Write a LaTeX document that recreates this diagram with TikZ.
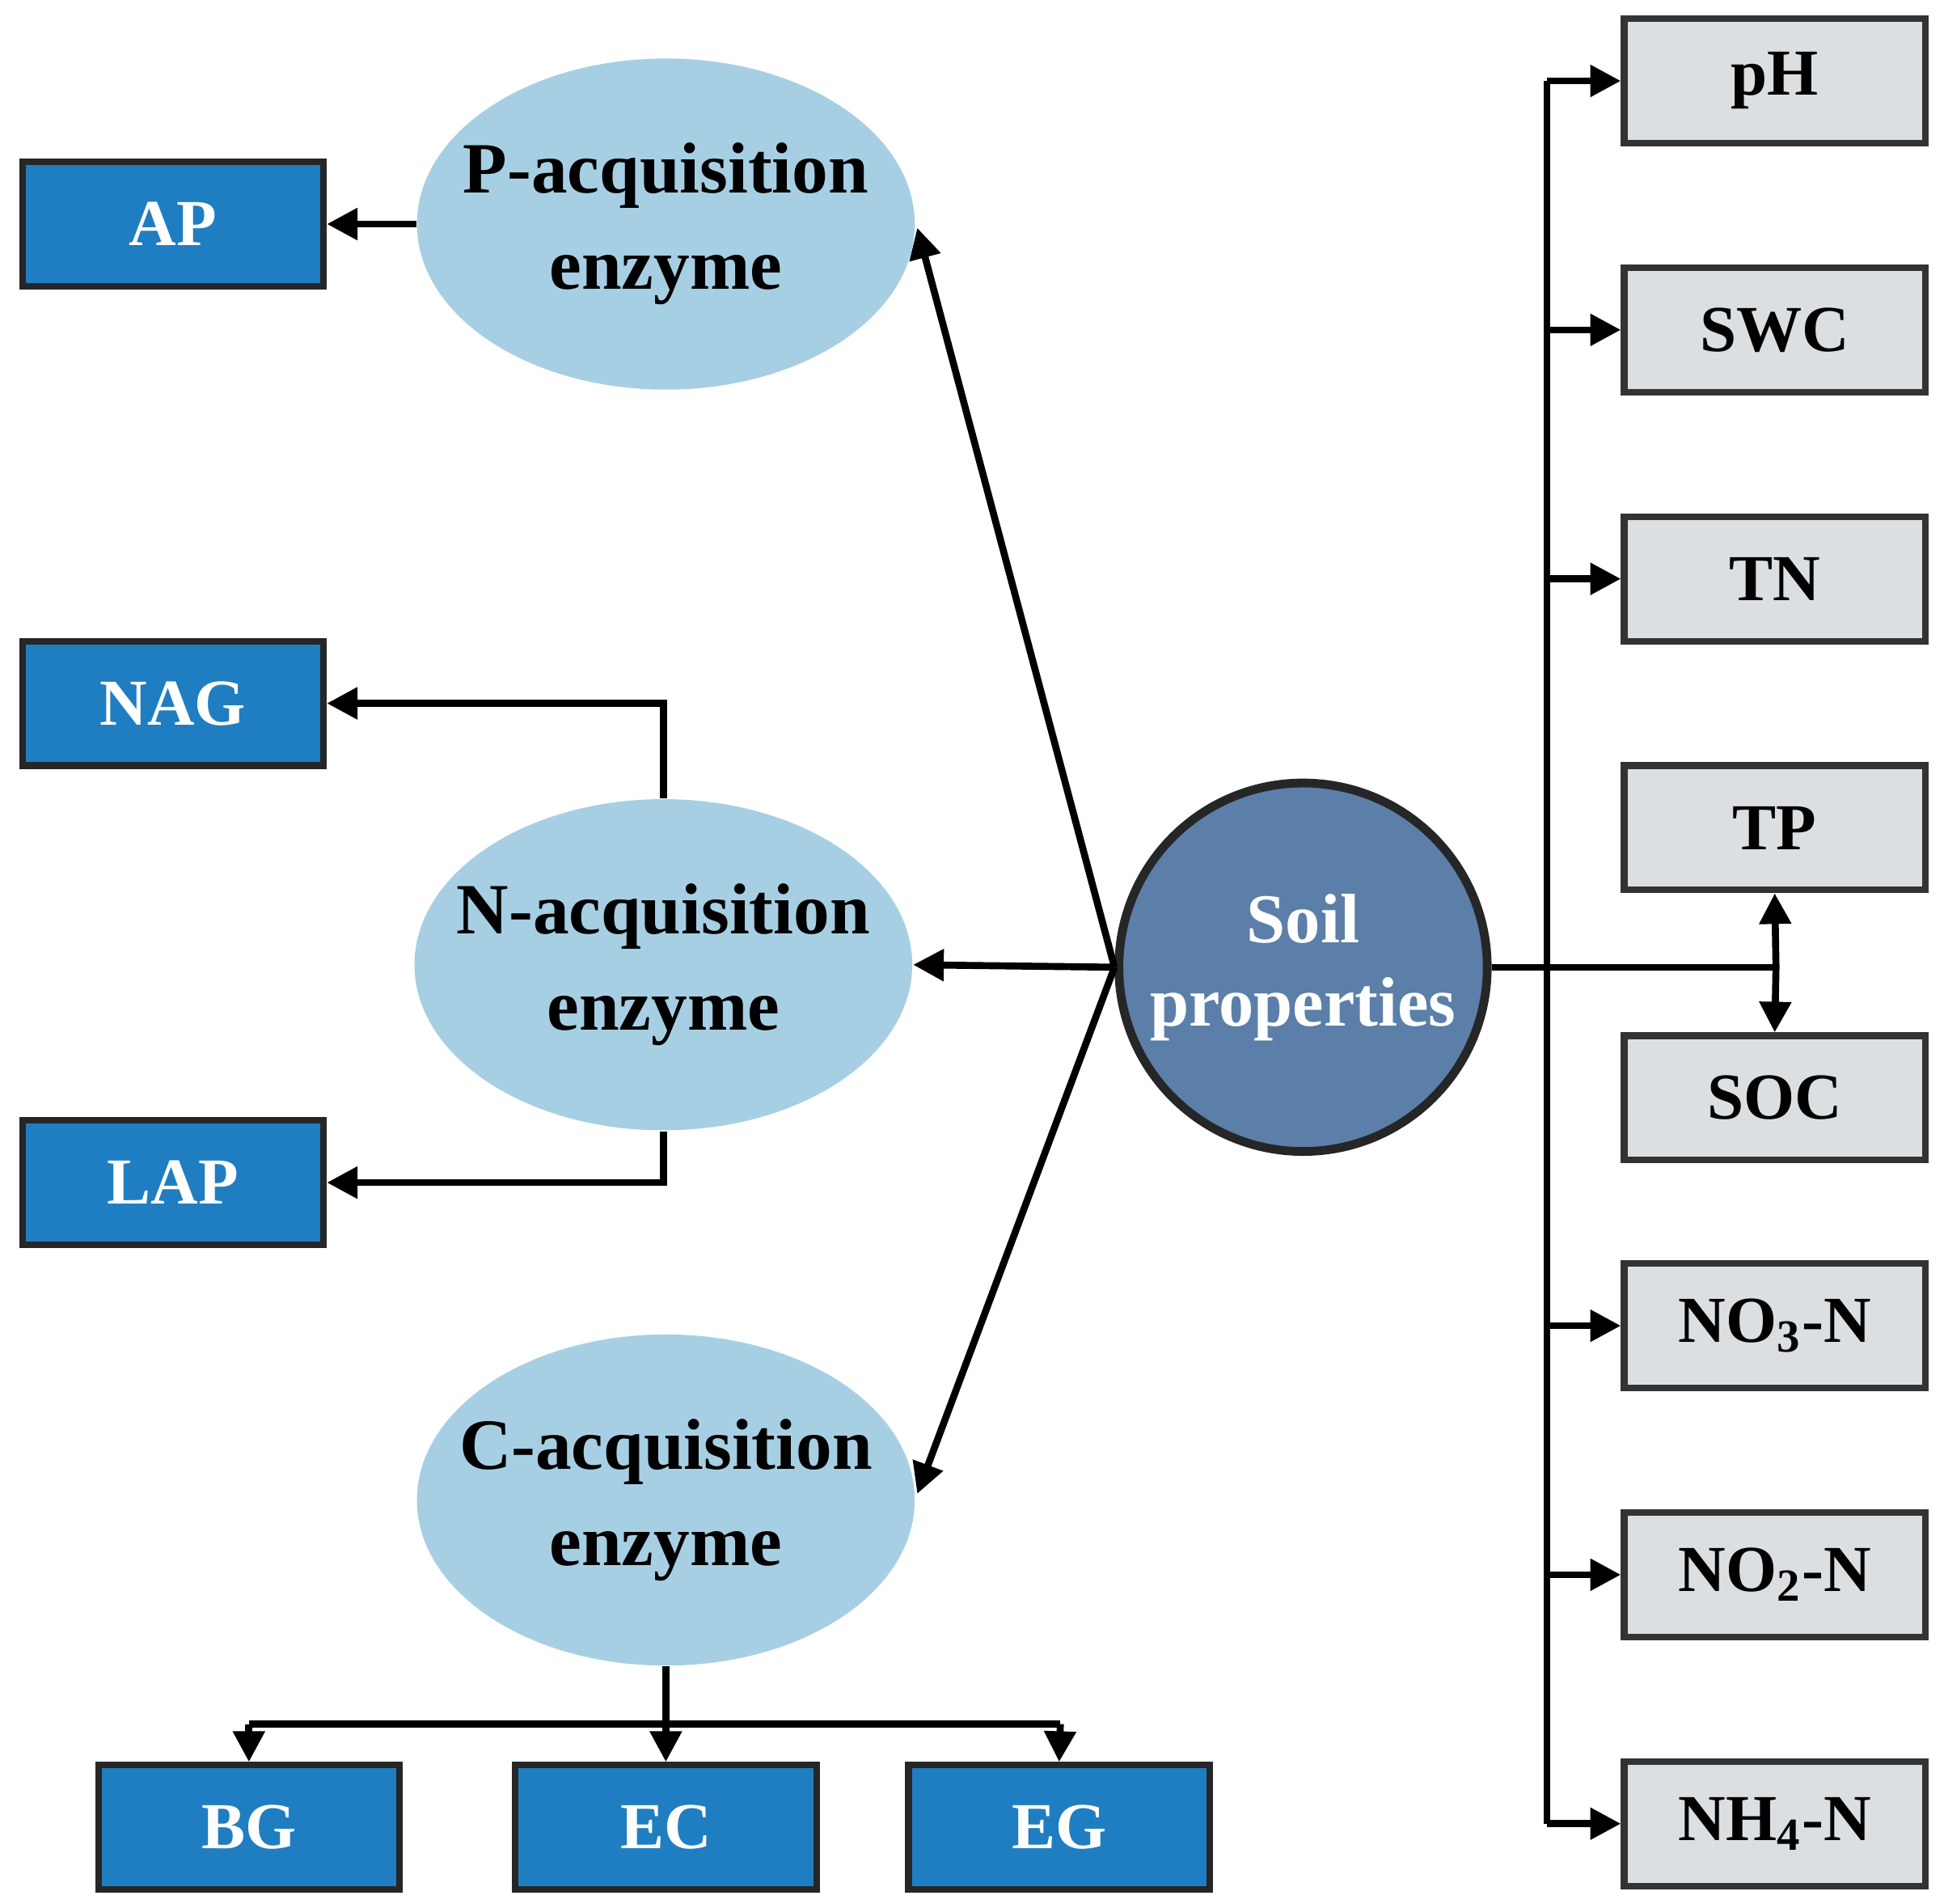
\documentclass[tikz,border=0pt]{standalone}
\usepackage{fontspec}
\setmainfont{Liberation Serif}
\usetikzlibrary{arrows.meta,shapes.geometric}
\definecolor{bluebox}{HTML}{1F7EC1}
\definecolor{ell}{HTML}{A7CFE3}
\definecolor{soil}{HTML}{5B7FA8}
\definecolor{graybox}{HTML}{DCDFE2}
\begin{document}
\begin{tikzpicture}[x=0.1mm,y=-0.1mm,
 bb/.style={draw=black!85,line width=1.5pt,fill=bluebox,text=white,minimum width=24.2mm,minimum height=10mm,inner sep=0pt,font=\fontsize{15}{18}\selectfont\bfseries},
 gb/.style={draw=black!80,line width=1.5pt,fill=graybox,text=black,minimum width=24.2mm,minimum height=10mm,inner sep=0pt,font=\fontsize{15}{18}\selectfont\bfseries},
 el/.style={ellipse,fill=ell,minimum width=40mm,minimum height=26.6mm,inner sep=0pt},
 et/.style={align=center,font=\fontsize{16.5}{22}\selectfont\bfseries},
 ar/.style={line width=1.6pt,-{Triangle[length=7pt,width=7pt]}},
 ln/.style={line width=1.6pt}]
\useasboundingbox (0,0) rectangle (1562,1529);
\node[bb] (AP) at (139,180) {AP};
\node[bb] (NAG) at (139,565) {NAG};
\node[bb] (LAP) at (139,950) {LAP};
\node[bb] (BG) at (200,1468) {BG};
\node[bb] (EC) at (535,1468) {EC};
\node[bb] (EG) at (851,1468) {EG};
\node[el] (P) at (535,180) {};
\node[el] (N) at (533,775) {};
\node[el] (C) at (535,1205) {};
\node[et] at (P) {P-acquisition\\enzyme};
\node[et] at (N) {N-acquisition\\enzyme};
\node[et] at (C) {C-acquisition\\enzyme};
\node[circle,draw=black!85,line width=2pt,fill=soil,minimum size=29.6mm,inner sep=0pt] (S) at (1047,777) {};
\node[align=center,text=white,font=\fontsize{16}{19}\selectfont\bfseries] at (S) {Soil\\properties};
\node[gb] (pH) at (1426,65) {pH};
\node[gb] (SWC) at (1426,265) {SWC};
\node[gb] (TN) at (1426,465) {TN};
\node[gb] (TP) at (1426,665) {TP};
\node[gb] (SOC) at (1426,882) {SOC};
\node[gb] (NO3) at (1426,1065) {NO\textsubscript{3}-N};
\node[gb] (NO2) at (1426,1265) {NO\textsubscript{2}-N};
\node[gb] (NH4) at (1426,1465) {NH\textsubscript{4}-N};
\coordinate (s0) at (S.west);
\coordinate (j) at (1243,777);
\coordinate (k) at (1427,777);
\draw[ar] (s0) -- (737,183);
\draw[ar] (s0) -- (N.east);
\draw[ar] (s0) -- (737,1200);
\draw[ar] (P.west) -- (AP.east);
\draw[ar] (N.north) -- (N.north |- NAG) -- (NAG.east);
\draw[ar] (N.south) -- (N.south |- LAP) -- (LAP.east);
\draw[ar] (C.south) -- (EC.north);
\draw[ln] (200,1385) -- (852,1385);
\draw[ar] (200,1385) -- (BG.north);
\draw[ar] (852,1385) -- (EG.north);
\draw[ln] (S.east) -- (k);
\draw[ar] (k) -- (TP.south);
\draw[ar] (k) -- (SOC.north);
\draw[ln] (1243,65) -- (1243,1465);
\foreach \b in {pH,SWC,TN,NO3,NO2,NH4} \draw[ar] (\b.west -| j) -- (\b.west);
\end{tikzpicture}
\end{document}
